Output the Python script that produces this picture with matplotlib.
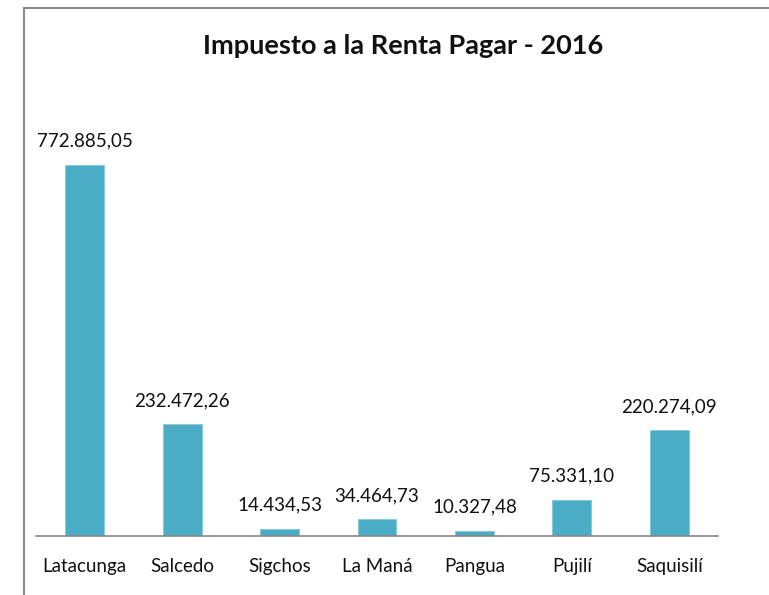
import matplotlib.pyplot as plt
from matplotlib.lines import Line2D

# Impuesto a la Renta por cantón - 2016
cantones = ['Latacunga', 'Salcedo', 'Sigchos', 'La Maná', 'Pangua', 'Pujilí', 'Saquisilí']
valores = [772885.05, 232472.26, 14434.53, 34464.73, 10327.48, 75331.10, 220274.09]
etiquetas = ['772.885,05', '232.472,26', '14.434,53', '34.464,73', '10.327,48', '75.331,10', '220.274,09']

plt.rcParams['font.family'] = ['Lato', 'DejaVu Sans']

fig = plt.figure(figsize=(7.69, 5.95), dpi=100)
W, H = 769, 595

# borde del grafico (recortado a la derecha y abajo)
gris = '#8c8c8c'
fig.add_artist(Line2D([24 / W, 24 / W], [0, 1 - 8 / H], color=gris, lw=1.5))
fig.add_artist(Line2D([24 / W, 1], [1 - 8 / H, 1 - 8 / H], color=gris, lw=1.5))

ax = fig.add_axes([36 / W, 1 - 536 / H, (718 - 36) / W, (536 - 104) / H])
x = range(len(cantones))
bars = ax.bar(x, valores, width=0.4, color='#4BACC6', edgecolor='#7fc4d6', linewidth=0.5)

for i, (v, t) in enumerate(zip(valores, etiquetas)):
    ax.annotate(t, (i, v), xytext=(0, 11), textcoords='offset points',
                ha='center', va='bottom', fontsize=13.5, color='#111111')

ax.set_xlim(-0.5, len(cantones) - 0.5)
ax.set_ylim(0, 900000)
ax.set_xticks(list(x))
ax.set_xticklabels(cantones, fontsize=13.5, color='#111111')
ax.tick_params(axis='x', length=0, pad=16)
ax.set_yticks([])
for s in ['left', 'right', 'top']:
    ax.spines[s].set_visible(False)
ax.spines['bottom'].set_color('#878787')
ax.spines['bottom'].set_linewidth(1.2)

fig.text(403 / W, 1 - 46 / H, 'Impuesto a la Renta Pagar - 2016', ha='center', va='center',
         fontsize=19.5, fontweight='bold', color='#111111')

fig.savefig('out.png', dpi=100)
